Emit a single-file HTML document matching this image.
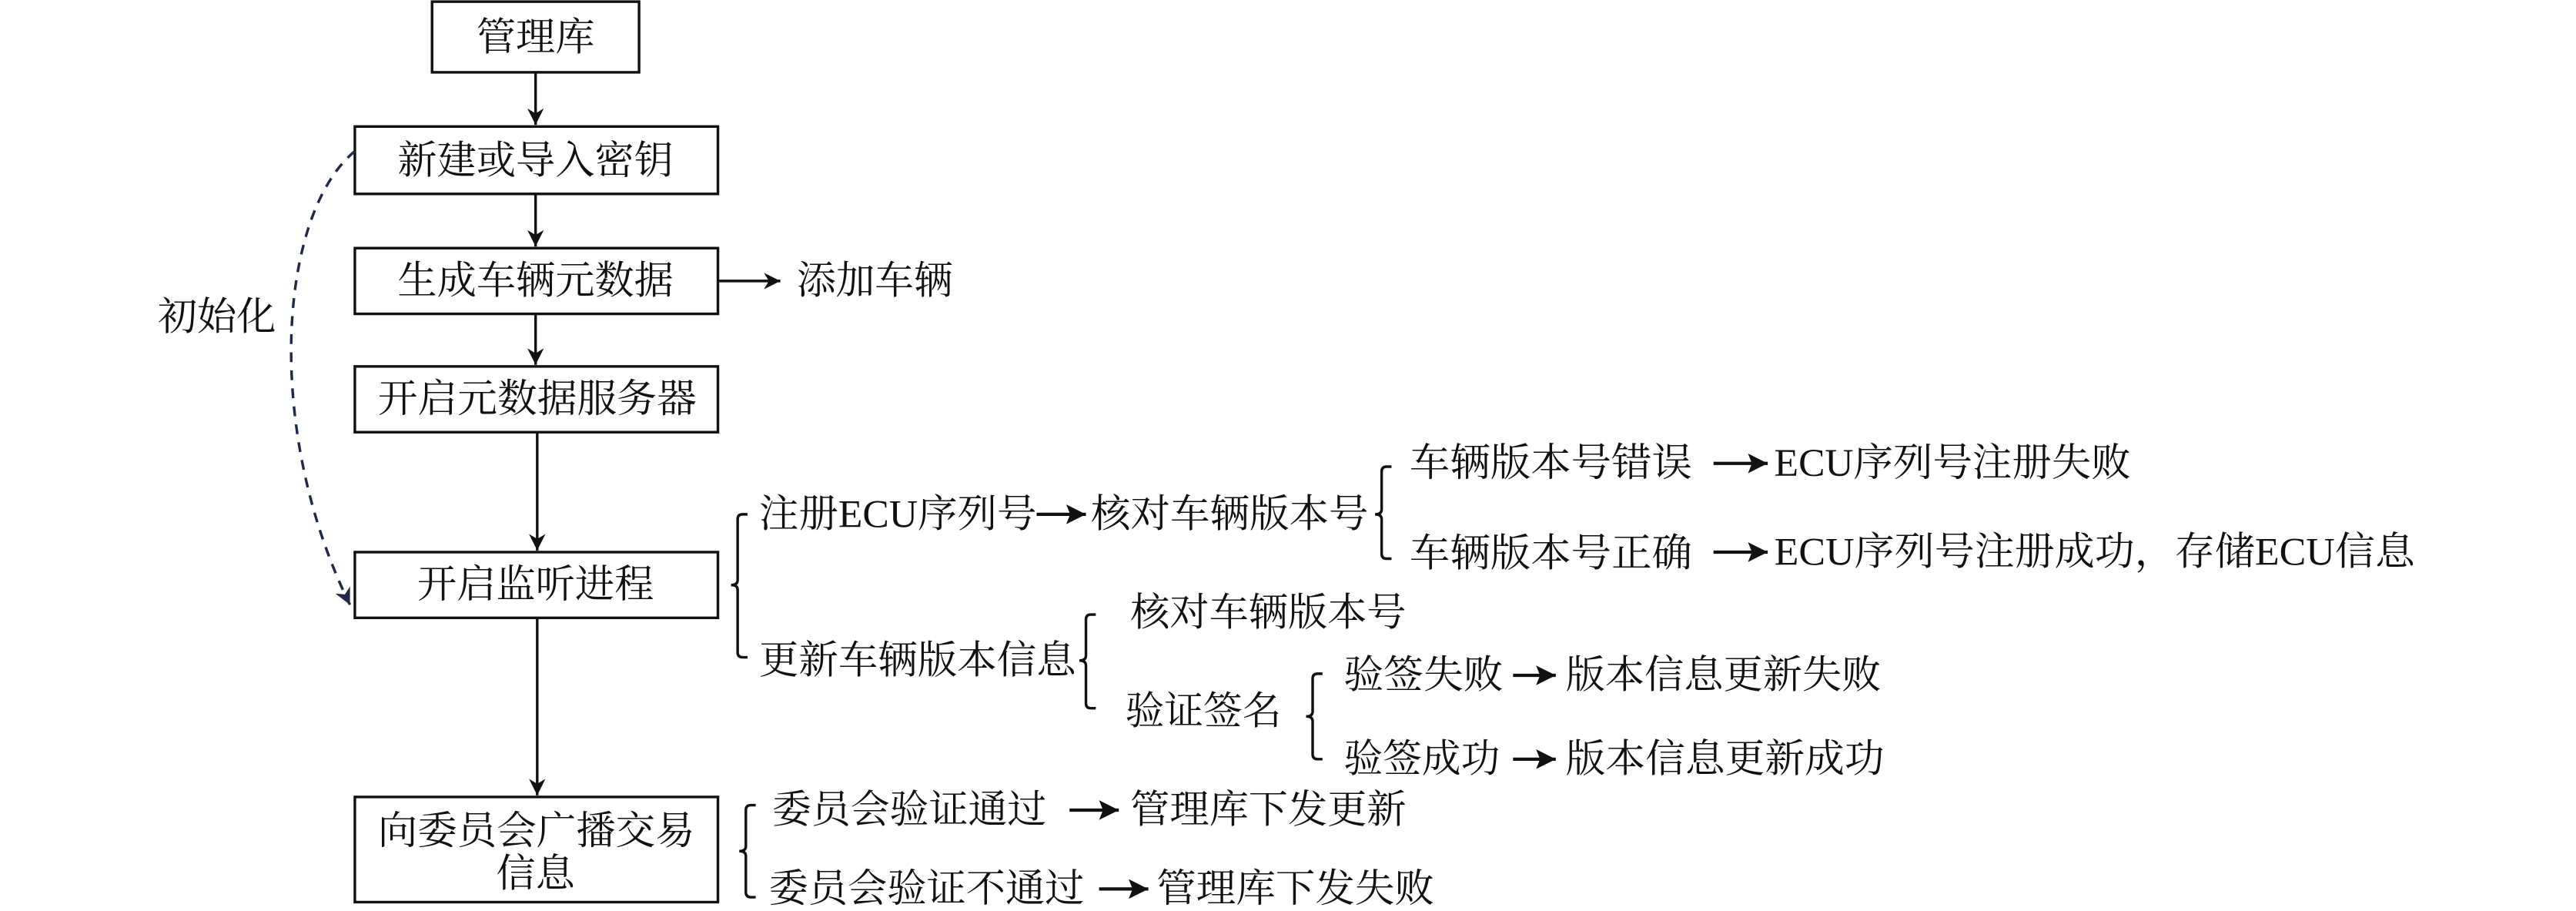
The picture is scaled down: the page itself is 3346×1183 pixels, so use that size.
<!DOCTYPE html>
<html><head><meta charset="utf-8"><style>
html,body{margin:0;padding:0;background:#fff;}
svg{display:block;}
text{font-family:"Liberation Serif","Noto Serif CJK SC",serif;font-size:24px;fill:#111;dominant-baseline:central;}
</style></head><body>
<svg width="3346" height="1183" viewBox="0 0 1568 554.4" preserveAspectRatio="none" xmlns="http://www.w3.org/2000/svg">
<defs>
<marker id="a" viewBox="0 0 10 10" refX="10" refY="5" markerWidth="10" markerHeight="10" orient="auto" markerUnits="userSpaceOnUse"><path d="M0,0 L10,5 L0,10 L3,5 z" fill="#111"/></marker>
<marker id="c" viewBox="0 0 10 10" refX="10" refY="5" markerWidth="12" markerHeight="12" orient="auto" markerUnits="userSpaceOnUse"><path d="M0,0 L10,5 L0,10 L2,5 z" fill="#111"/></marker>
<marker id="b" viewBox="0 0 10 10" refX="10" refY="5" markerWidth="10" markerHeight="10" orient="auto" markerUnits="userSpaceOnUse"><path d="M0,0 L10,5 L0,10 L3,5 z" fill="#1f2a4a"/></marker>
</defs>
<g fill="none" stroke="#111" stroke-width="1.6">
<rect x="263" y="1" width="126" height="43"/>
<rect x="216" y="77" width="221" height="41"/>
<rect x="216" y="151" width="221" height="40"/>
<rect x="216" y="223" width="221" height="40"/>
<rect x="216" y="336" width="221" height="40"/>
<rect x="216" y="485" width="221" height="64"/>
<line x1="326" y1="44" x2="326" y2="76" marker-end="url(#a)"/>
<line x1="326" y1="118" x2="326" y2="150" marker-end="url(#a)"/>
<line x1="326" y1="191" x2="326" y2="222" marker-end="url(#a)"/>
<line x1="327" y1="263" x2="327" y2="335" marker-end="url(#a)"/>
<line x1="327" y1="376" x2="327" y2="484" marker-end="url(#a)"/>
<line x1="437" y1="171" x2="475" y2="171" marker-end="url(#a)"/>
<path d="M216,92 C170,130 160,260 213,368" stroke="#1f2a4a" stroke-dasharray="6,5" marker-end="url(#b)"/>
<path d="M455,313 h-3 q-3,0 -3,3 V353 q0,3 -4,3 q4,0 4,3 V397 q0,3 3,3 h3"/>
<path d="M847,284 h-3 q-3,0 -3,3 V310 q0,3 -4,3 q4,0 4,3 V337 q0,3 3,3 h3"/>
<path d="M667,374 h-3 q-3,0 -3,3 V399 q0,3 -4,3 q4,0 4,3 V428 q0,3 3,3 h3"/>
<path d="M805,410 h-3 q-3,0 -3,3 V433 q0,3 -4,3 q4,0 4,3 V459 q0,3 3,3 h3"/>
<path d="M460,490 h-3 q-3,0 -3,3 V515 q0,3 -4,3 q4,0 4,3 V543 q0,3 3,3 h3"/>
<g stroke-width="2">
<line x1="631" y1="313" x2="661" y2="313" marker-end="url(#c)"/>
<line x1="1043" y1="282" x2="1076" y2="282" marker-end="url(#c)"/>
<line x1="1043" y1="336" x2="1076" y2="336" marker-end="url(#c)"/>
<line x1="921" y1="411" x2="947" y2="411" marker-end="url(#c)"/>
<line x1="921" y1="462" x2="947" y2="462" marker-end="url(#c)"/>
<line x1="651" y1="493" x2="681" y2="493" marker-end="url(#c)"/>
<line x1="669" y1="541" x2="699" y2="541" marker-end="url(#c)"/>
</g>
</g>
<g lengthAdjust="spacingAndGlyphs">
<text x="290" y="23" textLength="72" lengthAdjust="spacingAndGlyphs">管理库</text>
<text x="242" y="98" textLength="168" lengthAdjust="spacingAndGlyphs">新建或导入密钥</text>
<text x="242" y="171" textLength="168" lengthAdjust="spacingAndGlyphs">生成车辆元数据</text>
<text x="230" y="243" textLength="194" lengthAdjust="spacingAndGlyphs">开启元数据服务器</text>
<text x="254" y="356" textLength="144" lengthAdjust="spacingAndGlyphs">开启监听进程</text>
<text x="230" y="506" textLength="193" lengthAdjust="spacingAndGlyphs">向委员会广播交易</text>
<text x="302" y="532" textLength="48" lengthAdjust="spacingAndGlyphs">信息</text>
<text x="485" y="171" textLength="95" lengthAdjust="spacingAndGlyphs">添加车辆</text>
<text x="96" y="193" textLength="72" lengthAdjust="spacingAndGlyphs">初始化</text>
<text x="462" y="313" textLength="169" lengthAdjust="spacingAndGlyphs">注册ECU序列号</text>
<text x="664" y="313" textLength="169" lengthAdjust="spacingAndGlyphs">核对车辆版本号</text>
<text x="858" y="282" textLength="172" lengthAdjust="spacingAndGlyphs">车辆版本号错误</text>
<text x="1080" y="282" textLength="217" lengthAdjust="spacingAndGlyphs">ECU序列号注册失败</text>
<text x="858" y="337" textLength="172" lengthAdjust="spacingAndGlyphs">车辆版本号正确</text>
<text x="1080" y="336" textLength="390" lengthAdjust="spacingAndGlyphs">ECU序列号注册成功，存储ECU信息</text>
<text x="462" y="402" textLength="193" lengthAdjust="spacingAndGlyphs">更新车辆版本信息</text>
<text x="688" y="373" textLength="168" lengthAdjust="spacingAndGlyphs">核对车辆版本号</text>
<text x="685" y="433" textLength="95" lengthAdjust="spacingAndGlyphs">验证签名</text>
<text x="818" y="411" textLength="97" lengthAdjust="spacingAndGlyphs">验签失败</text>
<text x="953" y="411" textLength="192" lengthAdjust="spacingAndGlyphs">版本信息更新失败</text>
<text x="818" y="462" textLength="95" lengthAdjust="spacingAndGlyphs">验签成功</text>
<text x="953" y="462" textLength="194" lengthAdjust="spacingAndGlyphs">版本信息更新成功</text>
<text x="470" y="493" textLength="167" lengthAdjust="spacingAndGlyphs">委员会验证通过</text>
<text x="688" y="493" textLength="168" lengthAdjust="spacingAndGlyphs">管理库下发更新</text>
<text x="468" y="541" textLength="192" lengthAdjust="spacingAndGlyphs">委员会验证不通过</text>
<text x="704" y="541" textLength="169" lengthAdjust="spacingAndGlyphs">管理库下发失败</text>
</g>
</svg>
</body></html>
